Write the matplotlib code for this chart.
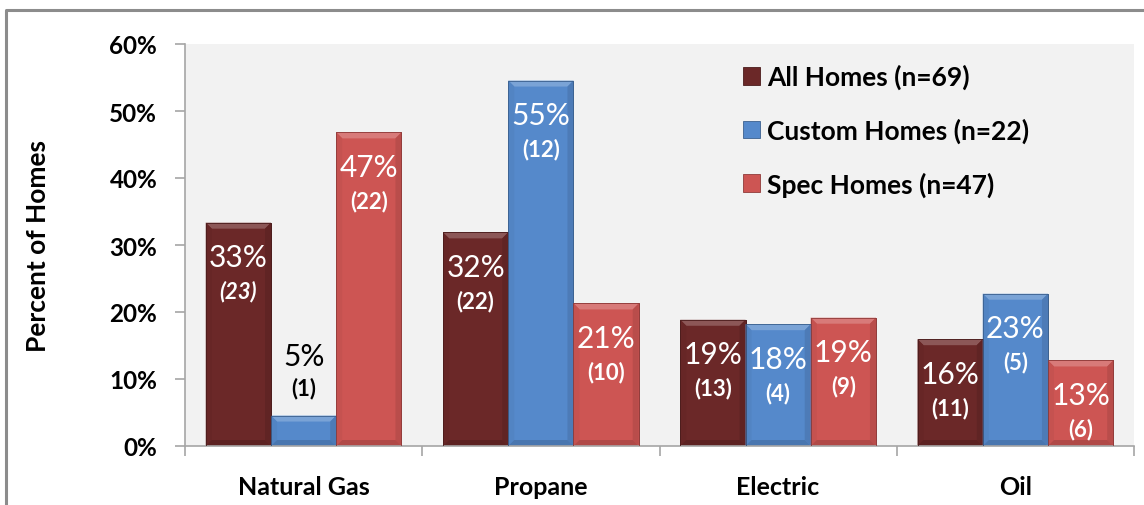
import matplotlib
matplotlib.use("Agg")
import matplotlib.pyplot as plt
from matplotlib.patches import Polygon, Patch
from matplotlib.lines import Line2D
from matplotlib.colors import to_rgb
import numpy as np

plt.rcParams['font.family'] = ['Lato', 'DejaVu Sans']

# ---- data -------------------------------------------------------------
categories = ["Natural Gas", "Propane", "Electric", "Oil"]
series_names = ["All Homes", "Custom Homes", "Spec Homes"]
sample_sizes = [69, 22, 47]
# number of homes using each fuel, per series
counts_all = [23, 22, 13, 11]
counts_custom = [1, 12, 4, 5]
counts_spec = [22, 10, 9, 6]
yticks = [0, 10, 20, 30, 40, 50, 60]

series_counts = [counts_all, counts_custom, counts_spec]
series_colors = ["#6B2828", "#5589CB", "#CD5553"]
italic_counts = {(0, 0)}  # (series, category) drawn in italic

# ---- figure -----------------------------------------------------------
W, H = 1144, 506
fig = plt.figure(figsize=(W / 100, H / 100), dpi=100)
fig.patch.set_facecolor("white")
ax_l, ax_r, ax_t, ax_b = 185, 1134, 45, 447
ax = fig.add_axes([ax_l / W, 1 - ax_b / H, (ax_r - ax_l) / W, (ax_b - ax_t) / H])
ax.set_facecolor("#F2F2F2")

# chart frame (top and left edges)
fig.add_artist(Line2D([6 / W, 6 / W, 1.0], [0.0, 1 - 10.5 / H, 1 - 10.5 / H],
                      transform=fig.transFigure, color="#8C8C8C", lw=2.2))

ax.set_xlim(-0.5, len(categories) - 0.5)
ax.set_ylim(0, 60)

px_x = (ax_r - ax_l) / len(categories)   # pixels per category unit
px_y = (ax_b - ax_t) / 60.0              # pixels per percent


def mix(c, other, t):
    c = np.array(to_rgb(c))
    o = np.array(to_rgb(other))
    return tuple(c * (1 - t) + o * t)


bar_w = 0.275
x = np.arange(len(categories))
offsets = [-bar_w, 0.0, bar_w]
pct_size, cnt_size = 21.5, 16

for si, (counts, n, col) in enumerate(zip(series_counts, sample_sizes, series_colors)):
    pct = np.array(counts) / n * 100
    bars = ax.bar(x + offsets[si], pct, width=bar_w, color=col,
                  edgecolor=mix(col, "black", 0.3), linewidth=0.6, zorder=2)
    for ci, rect in enumerate(bars):
        x0 = rect.get_x()
        x1 = x0 + rect.get_width()
        h = rect.get_height()
        dx = 6 / px_x
        dy = min(6 / px_y, h / 3)
        faces = [
            ([(x0, h), (x1, h), (x1 - dx, h - dy), (x0 + dx, h - dy)], mix(col, "white", 0.22)),
            ([(x0, 0), (x0, h), (x0 + dx, h - dy), (x0 + dx, dy)], mix(col, "black", 0.04)),
            ([(x1, 0), (x1, h), (x1 - dx, h - dy), (x1 - dx, dy)], mix(col, "black", 0.10)),
            ([(x0, 0), (x1, 0), (x1 - dx, dy), (x0 + dx, dy)], mix(col, "black", 0.14)),
        ]
        for pts, fc in faces:
            ax.add_patch(Polygon(pts, closed=True, facecolor=fc, edgecolor="none", zorder=2.5))
        ax.add_patch(Polygon([(x0, 0), (x0, h), (x1, h), (x1, 0)], closed=True,
                             facecolor="none", edgecolor=mix(col, "black", 0.3),
                             linewidth=0.6, zorder=2.6))

        cx = rect.get_x() + rect.get_width() / 2
        style = "italic" if (si, ci) in italic_counts else "normal"
        if h < 8:
            tc, off_p, off_c = "black", 43, 20
        else:
            tc, off_p, off_c = "white", -25, -49
        ax.annotate(f"{h:.0f}%", (cx, h), xytext=(0, off_p), textcoords="offset points",
                    ha="center", va="center", fontsize=pct_size, color=tc, zorder=3)
        ax.annotate(f"({counts[ci]})", (cx, h), xytext=(0, off_c), textcoords="offset points",
                    ha="center", va="center", fontsize=cnt_size, fontweight="bold",
                    style=style, color=tc, zorder=3)

# ---- axes styling -------------------------------------------------------
for side in ["top", "right"]:
    ax.spines[side].set_visible(False)
for side in ["left", "bottom"]:
    ax.spines[side].set_color("#A6A6A6")
    ax.spines[side].set_linewidth(1.2)

ax.set_yticks(yticks)
ax.set_yticklabels([f"{t}%" for t in yticks], fontsize=17.5, fontweight="bold")
ax.tick_params(axis="y", length=7, width=1.2, color="#A6A6A6", pad=13)

ax.set_xticks(x)
ax.set_xticklabels(categories, fontsize=18, fontweight="bold")
ax.set_xticks(np.arange(-0.5, len(categories)), minor=True)
ax.tick_params(axis="x", which="major", length=0, pad=21)
ax.tick_params(axis="x", which="minor", length=7, width=1.2, color="#A6A6A6")

ax.set_ylabel("Percent of Homes", fontsize=19, fontweight="bold")
ax.yaxis.set_label_coords(-0.142, 0.5)

# ---- legend -----------------------------------------------------------
handles = [Patch(facecolor=c, edgecolor=mix(c, "black", 0.3), linewidth=0.6)
           for c in series_colors]
labels = [f"{name} (n={n})" for name, n in zip(series_names, sample_sizes)]
leg = ax.legend(handles, labels, loc="upper left", bbox_to_anchor=(0.588, 0.95),
                frameon=False, prop={"weight": "bold", "size": 19},
                handlelength=0.65, handleheight=0.65, handletextpad=0.25,
                labelspacing=1.07, borderpad=0, borderaxespad=0)

fig.savefig("out.png", dpi=100, facecolor="white")
